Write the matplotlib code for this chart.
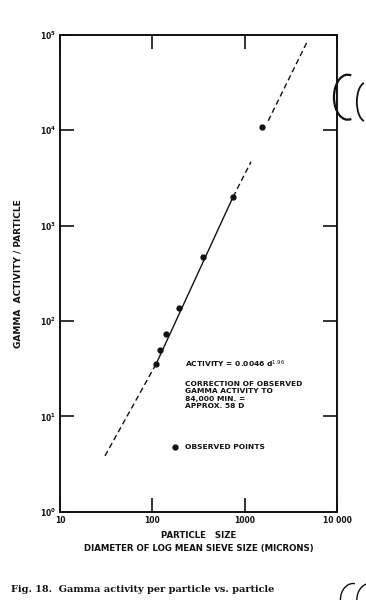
"""
Gamma activity per particle vs. particle size (Fig. 18), log-log.
"""

import matplotlib
matplotlib.use("Agg")
import matplotlib.pyplot as plt
from matplotlib.patches import Arc

# observed points (diameter in microns, gamma activity per particle)
obs_size = [110, 121, 141, 195, 354, 748, 1540]
obs_activity = [35.6, 50, 73, 137, 470, 2000, 10900]

# fitted line
fit_lo_size = [30.7, 110]
fit_lo_act = [3.86, 35.6]
fit_mid_size = [110, 748]
fit_mid_act = [35.6, 2000]
fit_hi_size = [748, 1170]
fit_hi_act = [2000, 4670]
fit_top_size = [1795, 4860]
fit_top_act = [12550, 88700]

x_ticks = [10, 100, 1000, 10000]
x_tick_labels = ["10", "100", "1000", "10 000"]
y_ticks = [1, 10, 100, 1000, 10000, 100000]

note_lines = ["CORRECTION OF OBSERVED", "GAMMA ACTIVITY TO",
              "84,000 MIN. =", "APPROX. 58 D"]

fig = plt.figure(figsize=(3.66, 6.0), dpi=100)
ax = fig.add_axes([0.164, 0.147, 0.757, 0.795])

ink = "#111111"
ax.plot(fit_lo_size, fit_lo_act, color=ink, lw=1.0, ls=(0, (4, 2.5)))
ax.plot(fit_mid_size, fit_mid_act, color=ink, lw=1.0)
ax.plot(fit_hi_size, fit_hi_act, color=ink, lw=1.0, ls=(0, (4, 2.5)))
ax.plot(fit_top_size, fit_top_act, color=ink, lw=1.0, ls=(0, (4, 2.5)))
ax.plot(obs_size, obs_activity, "o", color=ink, ms=3.5)

ax.set_xscale("log")
ax.set_yscale("log")
ax.set_xlim(10, 10000)
ax.set_ylim(1, 100000)
ax.set_xticks(x_ticks)
ax.set_xticklabels(x_tick_labels)
ax.set_yticks(y_ticks)
ax.minorticks_off()
ax.tick_params(which="both", direction="in", length=10, width=1.2,
               top=True, right=True, labelsize=5.5, colors=ink, pad=3)
for lab in ax.get_xticklabels() + ax.get_yticklabels():
    lab.set_fontweight("bold")
for sp in ax.spines.values():
    sp.set_linewidth(1.4)
    sp.set_color(ink)

ax.set_ylabel("GAMMA  ACTIVITY / PARTICLE", fontsize=6.5, fontweight="bold",
              labelpad=12, color=ink)
ax.set_xlabel("PARTICLE   SIZE\nDIAMETER OF LOG MEAN SIEVE SIZE (MICRONS)",
              fontsize=6.2, fontweight="bold", labelpad=4, color=ink,
              linespacing=1.7)

# annotation block inside the plot
ax.text(0.45, 0.303, r"ACTIVITY = 0.0046 d$^{1.96}$", transform=ax.transAxes,
        fontsize=5.4, fontweight="bold", color=ink)
ax.text(0.45, 0.275, "\n".join(note_lines), transform=ax.transAxes,
        fontsize=5.4, fontweight="bold", color=ink, va="top", linespacing=1.3)
ax.plot([0.415], [0.135], "o", color=ink, ms=3.5, transform=ax.transAxes)
ax.text(0.45, 0.135, "OBSERVED POINTS", transform=ax.transAxes,
        fontsize=5.4, fontweight="bold", color=ink, va="center")

fig.text(0.03, 0.014, "Fig. 18.  Gamma activity per particle vs. particle",
         fontsize=7, family="DejaVu Serif", fontweight="bold", color=ink)

# scan artefacts: punch-hole arcs at the margin
fig.add_artist(Arc((0.95, 0.838), 0.075, 0.075, theta1=75, theta2=285,
                   transform=fig.transFigure, color=ink, lw=1.6))
fig.add_artist(Arc((1.0, 0.83), 0.05, 0.065, theta1=100, theta2=260,
                   transform=fig.transFigure, color=ink, lw=1.3))
fig.add_artist(Arc((0.965, 0.0), 0.07, 0.055, theta1=80, theta2=180,
                   transform=fig.transFigure, color=ink, lw=1.0))
fig.add_artist(Arc((1.01, 0.0), 0.07, 0.055, theta1=80, theta2=180,
                   transform=fig.transFigure, color=ink, lw=1.0))

fig.savefig("out.png", dpi=100)
